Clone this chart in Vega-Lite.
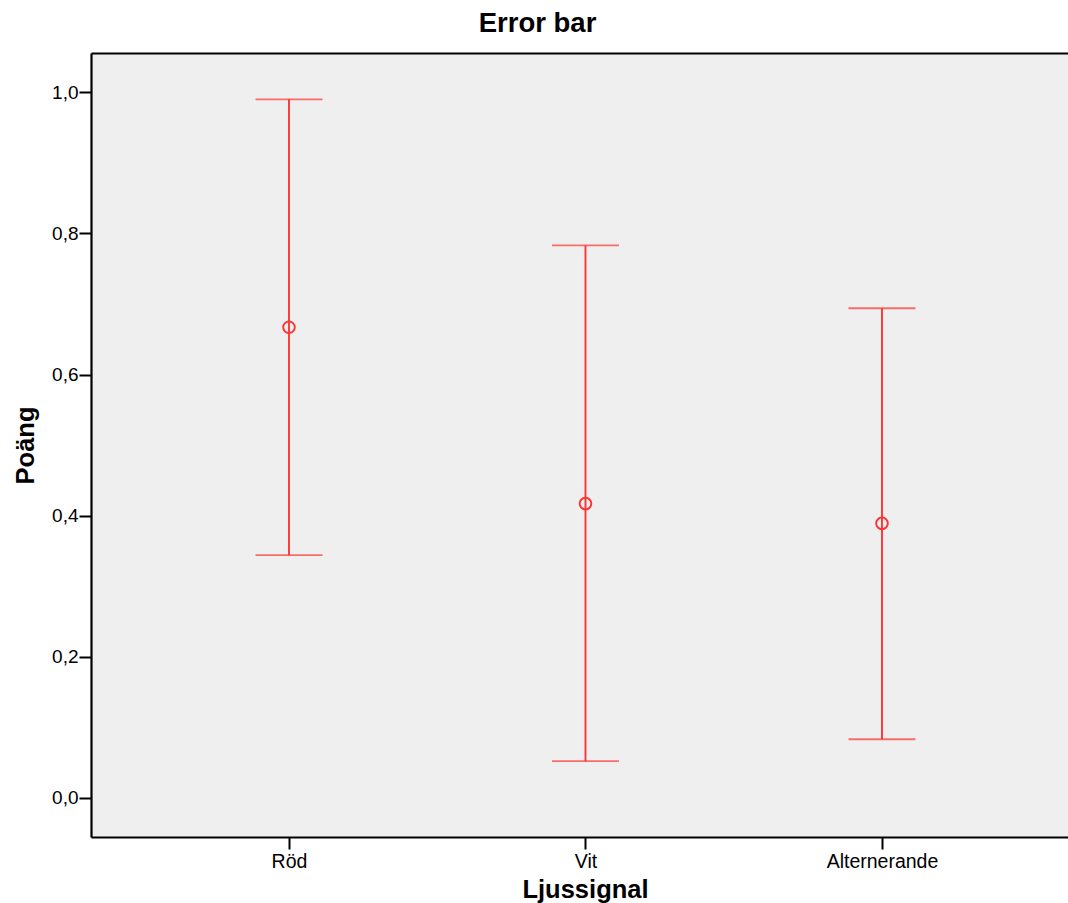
{
  "$schema": "https://vega.github.io/schema/vega-lite/v6.json",
  "width": 977,
  "height": 784,
  "autosize": {"type": "none"},
  "padding": {"left": 91, "top": 53, "right": 0, "bottom": 66},
  "background": "white",
  "title": {
    "text": "Error bar",
    "font": "Liberation Sans",
    "fontSize": 27.5,
    "fontWeight": "bold",
    "color": "black",
    "anchor": "middle",
    "frame": "group",
    "dx": -42,
    "offset": 16
  },
  "config": {
    "view": {"fill": "#EFEFEF", "stroke": null},
    "font": "Liberation Sans"
  },
  "data": {
    "values": [
      {"signal": "Röd", "mean": 0.667, "lo": 0.344, "hi": 0.990},
      {"signal": "Vit", "mean": 0.417, "lo": 0.052, "hi": 0.783},
      {"signal": "Alternerande", "mean": 0.389, "lo": 0.083, "hi": 0.694}
    ]
  },
  "layer": [
    {
      "mark": {"type": "rule", "color": "#FF3333", "strokeWidth": 1.9},
      "encoding": {
        "x": {
          "field": "signal", "type": "nominal",
          "scale": {"type": "point", "domain": ["Röd", "Vit", "Alternerande"], "padding": 0.6476, "align": 0.5156},
          "axis": {
            "orient": "bottom", "title": "Ljussignal", "labelAngle": 0,
            "labelFont": "Liberation Sans", "labelFontSize": 19.5, "labelColor": "black", "labelPadding": 3,
            "tickSize": 12, "tickWidth": 2, "tickColor": "black",
            "domainColor": "black", "domainWidth": 2.2,
            "titleFont": "Liberation Sans", "titleFontSize": 25.5, "titleFontWeight": "bold", "titleColor": "black", "titlePadding": 7,
            "titleX": 494,
            "grid": false
          }
        },
        "y": {
          "field": "lo", "type": "quantitative",
          "scale": {"domain": [-0.0555, 1.0557], "nice": false, "zero": false},
          "axis": {
            "orient": "left", "title": "Poäng",
            "values": [0, 0.2, 0.4, 0.6, 0.8, 1.0],
            "labelExpr": "replace(format(datum.value, '.1f'), '.', ',')",
            "labelFont": "Liberation Sans", "labelFontSize": 19, "labelColor": "black", "labelPadding": 1,
            "tickSize": 12, "tickWidth": 2, "tickColor": "black",
            "domainColor": "black", "domainWidth": 2.2,
            "titleFont": "Liberation Sans", "titleFontSize": 25.5, "titleFontWeight": "bold", "titleColor": "black", "titlePadding": 13,
            "grid": false
          }
        },
        "y2": {"field": "hi"}
      }
    },
    {
      "mark": {"type": "tick", "color": "#FF3333", "thickness": 1.9, "size": 67, "orient": "horizontal"},
      "encoding": {
        "x": {"field": "signal", "type": "nominal", "axis": null},
        "y": {"field": "hi", "type": "quantitative"}
      }
    },
    {
      "mark": {"type": "tick", "color": "#FF3333", "thickness": 1.9, "size": 67, "orient": "horizontal"},
      "encoding": {
        "x": {"field": "signal", "type": "nominal", "axis": null},
        "y": {"field": "lo", "type": "quantitative"}
      }
    },
    {
      "mark": {"type": "point", "shape": "circle", "filled": false, "color": "#FF3333", "strokeWidth": 1.9, "size": 135, "opacity": 1},
      "encoding": {
        "x": {
          "field": "signal", "type": "nominal",
          "axis": {"orient": "top", "labels": false, "ticks": false, "title": null, "domainColor": "black", "domainWidth": 2.2, "grid": false}
        },
        "y": {"field": "mean", "type": "quantitative"}
      }
    }
  ]
}
